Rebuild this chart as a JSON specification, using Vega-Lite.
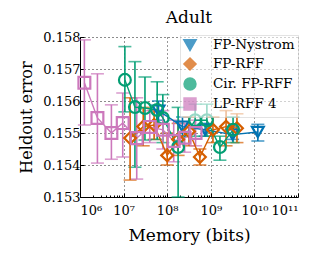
{
  "$schema": "https://vega.github.io/schema/vega-lite/v6.json",
  "width": 218,
  "height": 160,
  "autosize": {"type": "none"},
  "padding": {"left": 80, "top": 37, "right": 29, "bottom": 67},
  "background": "white",
  "title": {"text": "Adult", "font": "DejaVu Serif", "fontSize": 17, "fontWeight": "normal", "color": "black", "offset": 4},
  "config": {
    "view": {"stroke": null},
    "axis": {"labelFont": "DejaVu Serif", "titleFont": "DejaVu Serif", "labelColor": "black", "titleColor": "black", "titleFontWeight": "normal", "domainColor": "black", "tickColor": "black", "gridColor": "black", "gridDash": [1, 3], "gridOpacity": 0.9}
  },
  "data": {"values": [
    {"method": "FP-Nystrom", "memory": 6.31e7, "error": 0.1557, "lo": 0.1554, "hi": 0.1560},
    {"method": "FP-Nystrom", "memory": 2.24e8, "error": 0.1552, "lo": 0.1549, "hi": 0.1555},
    {"method": "FP-Nystrom", "memory": 7.41e8, "error": 0.1551, "lo": 0.1549, "hi": 0.1553},
    {"method": "FP-Nystrom", "memory": 3.16e9, "error": 0.15495, "lo": 0.1548, "hi": 0.1552},
    {"method": "FP-Nystrom", "memory": 1.2e10, "error": 0.15503, "lo": 0.15475, "hi": 0.15527},
    {"method": "FP-RFF", "memory": 1.41e7, "error": 0.15484, "lo": 0.15353, "hi": 0.1561},
    {"method": "FP-RFF", "memory": 2.82e7, "error": 0.1552, "lo": 0.1546, "hi": 0.1558},
    {"method": "FP-RFF", "memory": 5.01e7, "error": 0.15525, "lo": 0.1548, "hi": 0.1557},
    {"method": "FP-RFF", "memory": 1.0e8, "error": 0.1543, "lo": 0.154, "hi": 0.155},
    {"method": "FP-RFF", "memory": 1.78e8, "error": 0.1548, "lo": 0.1543, "hi": 0.1553},
    {"method": "FP-RFF", "memory": 3.16e8, "error": 0.15505, "lo": 0.1546, "hi": 0.1555},
    {"method": "FP-RFF", "memory": 5.62e8, "error": 0.15425, "lo": 0.154, "hi": 0.1545},
    {"method": "FP-RFF", "memory": 1.12e9, "error": 0.1551, "lo": 0.1547, "hi": 0.1555},
    {"method": "FP-RFF", "memory": 2.24e9, "error": 0.1552, "lo": 0.1546, "hi": 0.1557},
    {"method": "FP-RFF", "memory": 3.98e9, "error": 0.15515, "lo": 0.1547, "hi": 0.1556},
    {"method": "Cir. FP-RFF", "memory": 1.07e7, "error": 0.15666, "lo": 0.15566, "hi": 0.1577},
    {"method": "Cir. FP-RFF", "memory": 1.82e7, "error": 0.15581, "lo": 0.15393, "hi": 0.15723},
    {"method": "Cir. FP-RFF", "memory": 3.09e7, "error": 0.15578, "lo": 0.15478, "hi": 0.15675},
    {"method": "Cir. FP-RFF", "memory": 5.89e7, "error": 0.15572, "lo": 0.1548, "hi": 0.1566},
    {"method": "Cir. FP-RFF", "memory": 7.94e7, "error": 0.15547, "lo": 0.1547, "hi": 0.1562},
    {"method": "Cir. FP-RFF", "memory": 1.78e8, "error": 0.15456, "lo": 0.153, "hi": 0.1558},
    {"method": "Cir. FP-RFF", "memory": 4.37e8, "error": 0.1554, "lo": 0.1549, "hi": 0.1559},
    {"method": "Cir. FP-RFF", "memory": 8.13e8, "error": 0.1554, "lo": 0.1549, "hi": 0.1559},
    {"method": "Cir. FP-RFF", "memory": 1.62e9, "error": 0.15456, "lo": 0.15415, "hi": 0.1549},
    {"method": "Cir. FP-RFF", "memory": 3.24e9, "error": 0.1551, "lo": 0.1547, "hi": 0.1555},
    {"method": "LP-RFF 4", "memory": 1.26e6, "error": 0.15657, "lo": 0.15525, "hi": 0.15791},
    {"method": "LP-RFF 4", "memory": 2.51e6, "error": 0.15547, "lo": 0.15406, "hi": 0.15685},
    {"method": "LP-RFF 4", "memory": 5.25e6, "error": 0.155, "lo": 0.15418, "hi": 0.15588},
    {"method": "LP-RFF 4", "memory": 9.55e6, "error": 0.15531, "lo": 0.15425, "hi": 0.15625},
    {"method": "LP-RFF 4", "memory": 2.0e7, "error": 0.15484, "lo": 0.15356, "hi": 0.1561},
    {"method": "LP-RFF 4", "memory": 3.98e7, "error": 0.15519, "lo": 0.1547, "hi": 0.1557},
    {"method": "LP-RFF 4", "memory": 7.94e7, "error": 0.1551, "lo": 0.1545, "hi": 0.1557},
    {"method": "LP-RFF 4", "memory": 1.41e8, "error": 0.15475, "lo": 0.1541, "hi": 0.1554},
    {"method": "LP-RFF 4", "memory": 2.51e8, "error": 0.15485, "lo": 0.1544, "hi": 0.1553},
    {"method": "LP-RFF 4", "memory": 4.47e8, "error": 0.155, "lo": 0.1546, "hi": 0.1554}
  ]},
  "encoding": {
    "x": {"field": "memory", "type": "quantitative",
      "scale": {"type": "log", "domain": [1e6, 1e11], "nice": false},
      "axis": {"title": "Memory (bits)", "titleFontSize": 17, "labelFontSize": 13, "titlePadding": 10,
        "values": [1e6,2e6,3e6,4e6,5e6,6e6,7e6,8e6,9e6,1e7,2e7,3e7,4e7,5e7,6e7,7e7,8e7,9e7,1e8,2e8,3e8,4e8,5e8,6e8,7e8,8e8,9e8,1e9,2e9,3e9,4e9,5e9,6e9,7e9,8e9,9e9,1e10,2e10,3e10,4e10,5e10,6e10,7e10,8e10,9e10,1e11],
        "labelExpr": "abs(log(datum.value)/LN10 - round(log(datum.value)/LN10)) < 1e-6 ? '10' + ['⁶','⁷','⁸','⁹','¹⁰','¹¹'][round(log(datum.value)/LN10) - 6] : ''",
        "tickSize": {"condition": {"test": "abs(log(datum.value)/LN10 - round(log(datum.value)/LN10)) < 1e-6", "value": -4}, "value": -2},
        "gridOpacity": {"condition": {"test": "abs(log(datum.value)/LN10 - round(log(datum.value)/LN10)) < 1e-6", "value": 0.9}, "value": 0},
        "labelPadding": 11}},
    "y": {"field": "error", "type": "quantitative",
      "scale": {"domain": [0.153, 0.158], "nice": false},
      "axis": {"title": "Heldout error", "titleFontSize": 16, "labelFontSize": 13, "format": ".3f", "values": [0.153,0.154,0.155,0.156,0.157,0.158], "tickSize": -4, "labelPadding": 4, "titlePadding": 8}},
    "color": {"field": "method", "type": "nominal",
      "scale": {"domain": ["FP-Nystrom", "FP-RFF", "Cir. FP-RFF", "LP-RFF 4"], "range": ["#0173B2", "#D55E00", "#029E73", "#CC78BC"]},
      "legend": {"orient": "none", "legendX": 100, "legendY": -2, "title": null, "labelFont": "DejaVu Serif", "labelFontSize": 13.5, "labelColor": "black",
        "fillColor": "rgba(255,255,255,0.6)", "strokeColor": "rgba(200,200,200,0.5)", "padding": 3, "rowPadding": 0, "symbolSize": 130, "symbolStrokeWidth": 2, "labelOffset": 16}}
  },
  "layer": [
    {"mark": {"type": "errorbar", "ticks": {"size": 13, "thickness": 1.6}, "thickness": 1.6},
     "encoding": {"y": {"field": "lo", "type": "quantitative", "title": "Heldout error"}, "y2": {"field": "hi"}}},
    {"mark": {"type": "line", "strokeWidth": 1.4},
     "encoding": {}},
    {"mark": {"type": "point", "filled": false, "strokeWidth": 2.2, "size": 140, "opacity": 1},
     "encoding": {
       "shape": {"field": "method", "type": "nominal",
        "scale": {"domain": ["FP-Nystrom", "FP-RFF", "Cir. FP-RFF", "LP-RFF 4"], "range": ["triangle-down", "diamond", "circle", "square"]},
        "legend": {"orient": "none", "legendX": 100, "legendY": -2, "title": null}}}}
  ]
}
